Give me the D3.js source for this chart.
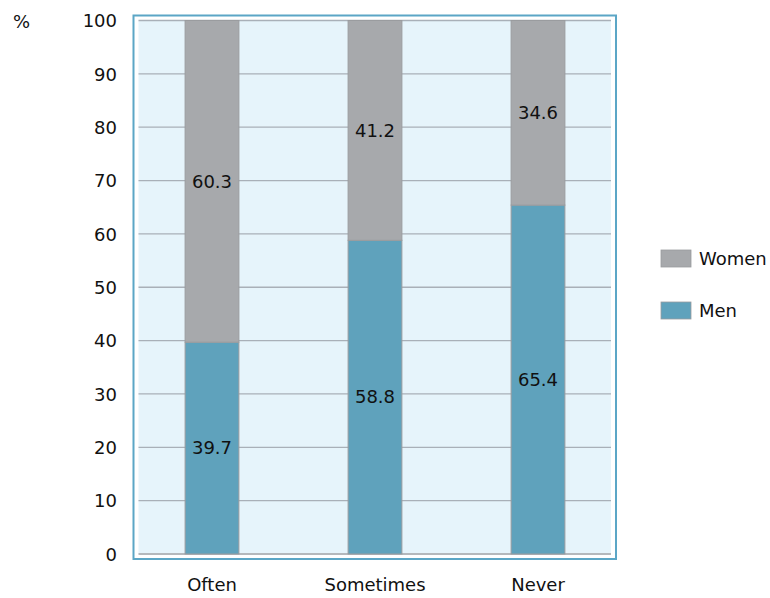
<!DOCTYPE html>
<html>
<head>
<meta charset="utf-8">
<script src="https://cdn.jsdelivr.net/npm/d3@7/dist/d3.min.js"></script>
<style>
  html, body { margin: 0; padding: 0; background: #fff; }
  svg { display: block; }
  text { font-family: "DejaVu Sans", "Open Sans", sans-serif; fill: #111; }
</style>
</head>
<body>
<svg id="chart" width="770" height="598"></svg>
<script>
// Share of men and women by answer category (percent)
const categories = ["Often", "Sometimes", "Never"];
const menValues = [39.7, 58.8, 65.4];
const womenValues = [60.3, 41.2, 34.6];
const yTicks = [0, 10, 20, 30, 40, 50, 60, 70, 80, 90, 100];
const seriesNames = ["Women", "Men"];
const seriesColors = { Men: "#5fa2bc", Women: "#a7a9ac" };

const FONT = "'DejaVu Sans', 'Open Sans', sans-serif";
const FS = 18;

const svg = d3.select("#chart");

const plot = { left: 138.5, right: 611, top: 20.5, bottom: 554 };

const x = d3.scaleBand()
  .domain(categories)
  .range([130.5, 619.5])
  .paddingInner(0.67)
  .paddingOuter(0.335);

const y = d3.scaleLinear()
  .domain([0, 100])
  .range([plot.bottom, plot.top]);

// Outer frame
svg.append("rect")
  .attr("x", 133.5).attr("y", 15.5)
  .attr("width", 616 - 133.5).attr("height", 559 - 15.5)
  .attr("fill", "#fff")
  .attr("stroke", "#5ba6c6")
  .attr("stroke-width", 2);

// Plot background
svg.append("rect")
  .attr("x", plot.left).attr("y", plot.top)
  .attr("width", plot.right - plot.left).attr("height", plot.bottom - plot.top)
  .attr("fill", "#e6f4fb");

// Horizontal gridlines
svg.append("g")
  .selectAll("line")
  .data(yTicks)
  .join("line")
  .attr("x1", plot.left).attr("x2", plot.right)
  .attr("y1", d => y(d)).attr("y2", d => y(d))
  .attr("stroke", d => d === 0 ? "#b4b8bc" : "#a9b0b8")
  .attr("stroke-width", d => d === 0 ? 2 : 1.3);

// Y axis tick labels
const yAxis = d3.axisLeft(y).tickValues(yTicks).tickSize(0).tickPadding(0);
const yg = svg.append("g").attr("transform", "translate(117,0)").call(yAxis);
yg.select(".domain").remove();
yg.selectAll("text")
  .attr("font-size", FS)
  .attr("font-family", FONT)
  .attr("fill", "#111")
  .attr("dy", "0.35em");

svg.append("text")
  .attr("x", 13).attr("y", 28)
  .attr("font-size", FS)
  .text("%");

// Stacked bars: men at the bottom, women on top
const rows = categories.map((c, i) => ({ category: c, Men: menValues[i], Women: womenValues[i] }));
const stack = d3.stack().keys(["Men", "Women"]);
const layers = stack(rows);

const layerG = svg.append("g")
  .selectAll("g")
  .data(layers)
  .join("g")
  .attr("fill", d => seriesColors[d.key]);

layerG.selectAll("rect")
  .data(d => d)
  .join("rect")
  .attr("x", d => x(d.data.category))
  .attr("width", x.bandwidth())
  .attr("y", d => y(d[1]))
  .attr("height", d => y(d[0]) - y(d[1]))
  .attr("stroke", "#9a9c9f")
  .attr("stroke-width", 1);

// Value labels centred in each segment
layerG.selectAll("text")
  .data(d => d.map(s => ({ s, key: d.key })))
  .join("text")
  .attr("x", d => x(d.s.data.category) + x.bandwidth() / 2)
  .attr("y", d => y((d.s[0] + d.s[1]) / 2))
  .attr("dy", "0.35em")
  .attr("text-anchor", "middle")
  .attr("font-size", FS)
  .attr("fill", "#111")
  .text(d => d.s.data[d.key].toFixed(1));

// X axis category labels
const xAxis = d3.axisBottom(x).tickSize(0).tickPadding(0);
const xg = svg.append("g").attr("transform", "translate(0,578)").call(xAxis);
xg.select(".domain").remove();
xg.selectAll("text")
  .attr("font-size", FS)
  .attr("font-family", FONT)
  .attr("fill", "#111")
  .attr("dy", "0.71em");

// Legend
const legend = svg.append("g")
  .selectAll("g")
  .data(seriesNames)
  .join("g")
  .attr("transform", (d, i) => `translate(661,${250 + i * 52})`);

legend.append("rect")
  .attr("width", 30).attr("height", 17)
  .attr("fill", d => seriesColors[d])
  .attr("stroke", "#9a9c9f")
  .attr("stroke-width", 0.8);

legend.append("text")
  .attr("x", 38).attr("y", 8.5)
  .attr("dy", "0.35em")
  .attr("font-size", FS)
  .text(d => d);
</script>
</body>
</html>
